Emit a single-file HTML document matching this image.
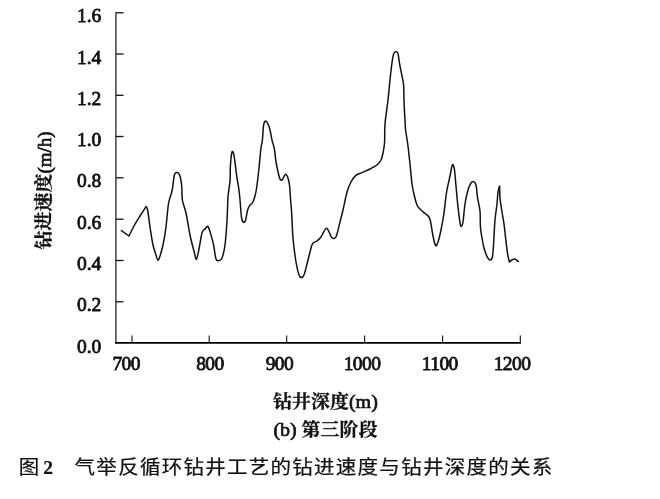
<!DOCTYPE html>
<html lang="zh"><head><meta charset="utf-8"><title>图2</title>
<style>
html,body{margin:0;padding:0;background:#fff;}
body{width:660px;height:499px;position:relative;overflow:hidden;}
.cap{position:absolute;left:0;top:453.3px;height:28px;line-height:28px;white-space:nowrap;
font-family:"Liberation Sans","Noto Sans CJK SC",sans-serif;font-size:20.5px;color:#111;letter-spacing:1.27px;-webkit-text-stroke:0.25px #111;}
.cap span,.cap b{position:absolute;top:0;}
.cap .a{left:18.8px;transform:scaleY(0.92);transform-origin:0 22.7px;}
svg .l{font-weight:normal;stroke:#111;stroke-width:0.7px;font-size:20px}
.cap b{left:43.2px;top:0.5px;font-family:"Liberation Serif","Noto Serif CJK SC",serif;font-weight:bold;font-size:19.5px;letter-spacing:0;-webkit-text-stroke:0.2px #111;}
.cap .t{left:74.6px;transform:scaleY(0.92);transform-origin:0 22.7px;}
</style></head><body>
<svg width="660" height="499" viewBox="0 0 660 499" style="position:absolute;left:0;top:0">
<g fill="none" stroke="#111" stroke-width="1.3">
<path d="M115.9,12.2 V343.5" stroke="#222"/>
<path d="M115.2,342.9 H521" stroke="#000" stroke-width="1.8"/>
<path d="M116,12.8 H123.6"/>
<path d="M116,54 H123.6"/>
<path d="M116,95.3 H123.6"/>
<path d="M116,136.5 H123.6"/>
<path d="M116,177.8 H123.6"/>
<path d="M116,219.2 H123.6"/>
<path d="M116,260.5 H123.6"/>
<path d="M116,301.8 H123.6"/>
<path d="M132,343 V335.5" stroke-width="1.1"/>
<path d="M209.2,343 V335.5" stroke-width="1.1"/>
<path d="M286.7,343 V335.5" stroke-width="1.1"/>
<path d="M364.6,343 V335.5" stroke-width="1.1"/>
<path d="M442.6,343 V335.5" stroke-width="1.1"/>
<path d="M520.3,343 V335.5" stroke-width="1.1"/>
<path d="M121.4,230.6 L129.0,236.0 C129.8,234.3 132.2,229.3 134.0,226.0 C135.8,222.7 138.0,219.2 140.0,216.0 C142.0,212.8 145.0,208.2 146.0,206.6 C146.3,207.2 146.9,206.6 147.6,210.0 C148.3,213.4 149.1,221.2 150.0,227.0 C150.9,232.8 152.0,240.3 153.0,245.0 C154.0,249.7 155.2,252.4 156.0,255.0 C156.8,257.6 157.3,260.1 158.0,260.3 C158.7,260.5 159.2,258.6 160.0,256.0 C160.8,253.4 162.0,249.8 163.0,245.0 C164.0,240.2 165.1,234.0 166.0,227.0 C166.9,220.0 167.6,209.0 168.6,203.0 C169.6,197.0 171.0,195.7 172.0,191.0 C173.0,186.3 173.6,178.1 174.4,175.0 C175.2,171.9 176.1,172.6 177.0,172.6 C177.9,172.6 178.8,172.9 179.6,175.0 C180.4,177.1 181.1,180.8 181.6,185.0 C182.1,189.2 181.7,195.3 182.4,200.0 C183.1,204.7 184.7,207.2 186.0,213.0 C187.3,218.8 188.7,228.7 190.0,235.0 C191.3,241.3 192.9,247.0 194.0,251.0 C195.1,255.0 195.6,259.5 196.4,259.2 C197.2,258.9 198.1,253.4 199.0,249.0 C199.9,244.6 201.0,236.3 202.0,233.0 C203.0,229.7 204.0,230.1 205.0,229.0 C206.0,227.9 207.0,225.6 208.0,226.6 C209.0,227.6 210.1,231.9 211.0,235.0 C211.9,238.1 212.8,241.0 213.6,245.0 C214.4,249.0 215.1,256.4 216.0,259.0 C216.9,261.6 218.0,260.8 219.0,260.6 C220.0,260.4 221.0,260.6 222.0,258.0 C223.0,255.4 224.2,251.2 225.0,245.0 C225.8,238.8 226.5,229.0 227.0,221.0 C227.5,213.0 227.5,203.7 228.0,197.0 C228.5,190.3 229.6,186.2 230.0,181.0 C230.4,175.8 230.1,170.6 230.4,166.0 C230.7,161.4 231.2,155.9 231.6,153.6 C232.0,151.3 232.5,151.3 233.0,152.0 C233.5,152.7 233.7,153.7 234.4,158.0 C235.1,162.3 236.2,172.7 237.0,178.0 C237.8,183.3 238.5,186.0 239.0,190.0 C239.5,194.0 239.8,197.3 240.2,202.0 C240.6,206.7 241.0,214.6 241.6,218.0 C242.2,221.4 242.9,222.1 243.6,222.4 C244.3,222.7 244.9,222.1 245.6,220.0 C246.3,217.9 246.9,212.5 247.6,210.0 C248.3,207.5 249.2,206.2 250.0,205.0 C250.8,203.8 251.6,204.5 252.4,203.0 C253.2,201.5 254.3,198.5 255.0,196.0 C255.7,193.5 255.9,192.7 256.6,188.0 C257.3,183.3 258.3,174.7 259.0,168.0 C259.7,161.3 260.4,152.7 261.0,148.0 C261.6,143.3 262.0,143.8 262.4,140.0 C262.8,136.2 263.1,128.2 263.6,125.0 C264.1,121.8 264.9,121.2 265.6,121.0 C266.3,120.8 267.3,122.5 268.0,124.0 C268.7,125.5 269.3,127.3 270.0,130.0 C270.7,132.7 271.3,136.8 272.0,140.0 C272.7,143.2 273.7,145.3 274.4,149.0 C275.1,152.7 275.2,157.5 276.0,162.0 C276.8,166.5 278.3,173.1 279.0,176.0 C279.7,178.9 279.8,179.0 280.4,179.6 C281.0,180.2 281.7,180.3 282.4,179.6 C283.1,178.9 283.8,176.5 284.4,175.6 C285.0,174.7 285.4,174.0 286.0,174.4 C286.6,174.8 287.4,176.1 288.0,178.0 C288.6,179.9 289.2,182.3 289.6,186.0 C290.0,189.7 290.3,195.7 290.6,200.0 C290.9,204.3 291.2,205.7 291.6,212.0 C292.0,218.3 292.3,229.7 293.0,238.0 C293.7,246.3 295.0,255.8 296.0,262.0 C297.0,268.2 298.1,272.4 299.0,275.0 C299.9,277.6 300.6,277.6 301.4,277.6 C302.2,277.6 303.1,277.3 304.0,275.0 C304.9,272.7 306.0,267.8 307.0,264.0 C308.0,260.2 309.1,255.4 310.0,252.0 C310.9,248.6 311.4,245.4 312.6,243.6 C313.8,241.8 315.6,242.1 317.0,241.0 C318.4,239.9 319.7,238.9 321.0,237.0 C322.3,235.1 324.0,231.0 325.0,229.6 C326.0,228.2 326.3,228.0 327.0,228.4 C327.7,228.8 328.2,230.5 329.0,232.0 C329.8,233.5 330.8,236.3 331.6,237.4 C332.4,238.5 333.2,238.6 334.0,238.4 C334.8,238.2 335.4,238.7 336.4,236.0 C337.4,233.3 338.9,226.3 340.0,222.0 C341.1,217.7 341.8,215.0 343.0,210.0 C344.2,205.0 345.7,196.7 347.0,192.0 C348.3,187.3 349.6,184.7 351.0,182.0 C352.4,179.3 353.8,177.2 355.6,175.6 C357.4,174.0 359.6,173.7 362.0,172.6 C364.4,171.5 367.5,170.3 370.0,169.0 C372.5,167.7 375.2,166.5 377.0,165.0 C378.8,163.5 380.0,162.0 381.0,160.0 C382.0,158.0 382.4,156.0 383.0,153.0 C383.6,150.0 384.3,146.8 384.6,142.0 C384.9,137.2 384.4,131.0 385.0,124.0 C385.6,117.0 387.2,107.3 388.0,100.0 C388.8,92.7 389.3,86.7 390.0,80.0 C390.7,73.3 391.7,64.5 392.4,60.0 C393.1,55.5 393.4,54.4 394.0,53.0 C394.6,51.6 395.3,51.7 396.0,51.8 C396.7,51.9 397.4,51.6 398.0,53.6 C398.6,55.6 398.9,60.3 399.6,64.0 C400.3,67.7 401.3,72.5 402.0,76.0 C402.7,79.5 403.3,81.0 403.6,85.0 C403.9,89.0 403.8,94.2 404.0,100.0 C404.2,105.8 404.7,115.0 405.0,120.0 C405.3,125.0 405.1,125.7 405.6,130.0 C406.1,134.3 407.3,140.3 408.0,146.0 C408.7,151.7 409.3,157.7 410.0,164.0 C410.7,170.3 411.3,178.7 412.0,184.0 C412.7,189.3 413.6,192.5 414.4,196.0 C415.2,199.5 416.1,202.8 417.0,205.0 C417.9,207.2 418.7,207.6 420.0,209.0 C421.3,210.4 423.5,212.2 425.0,213.5 C426.5,214.8 428.1,215.6 429.0,217.0 C429.9,218.4 429.9,218.8 430.6,222.0 C431.3,225.2 432.2,232.1 433.0,236.0 C433.8,239.9 434.8,244.6 435.6,245.6 C436.4,246.6 437.1,244.6 438.0,242.0 C438.9,239.4 440.0,234.8 441.0,230.0 C442.0,225.2 443.1,219.3 444.0,213.0 C444.9,206.7 445.6,198.2 446.6,192.0 C447.6,185.8 449.1,180.3 450.0,176.0 C450.9,171.7 451.5,167.8 452.0,166.0 C452.5,164.2 452.8,164.5 453.2,165.0 C453.6,165.5 453.9,165.5 454.4,169.0 C454.9,172.5 455.4,179.7 456.0,186.0 C456.6,192.3 457.3,200.9 458.0,207.0 C458.7,213.1 459.4,219.3 460.0,222.5 C460.6,225.7 460.9,226.5 461.4,226.4 C461.9,226.3 462.4,225.7 463.0,222.0 C463.6,218.3 464.2,209.3 465.0,204.0 C465.8,198.7 467.0,193.5 468.0,190.0 C469.0,186.5 470.1,184.4 471.0,183.0 C471.9,181.6 472.8,181.3 473.6,181.6 C474.4,181.9 475.3,182.3 476.0,185.0 C476.7,187.7 476.9,193.7 477.6,198.0 C478.3,202.3 479.5,206.3 480.0,211.0 C480.5,215.7 480.1,222.0 480.4,226.0 C480.6,230.0 480.9,231.3 481.5,235.0 C482.1,238.7 483.0,244.2 484.0,248.0 C485.0,251.8 486.5,255.6 487.6,257.6 C488.7,259.6 489.6,260.1 490.4,260.0 C491.2,259.9 491.9,259.7 492.4,257.0 C492.9,254.3 493.2,250.2 493.6,244.0 C494.0,237.8 494.4,226.7 495.0,220.0 C495.6,213.3 496.5,208.7 497.0,204.0 C497.5,199.3 497.6,195.0 498.0,192.0 C498.4,189.0 499.3,187.0 499.6,186.0 C499.7,188.0 499.6,193.7 500.0,198.0 C500.4,202.3 501.3,207.7 502.0,212.0 C502.7,216.3 503.4,219.7 504.0,224.0 C504.6,228.3 505.0,233.0 505.6,238.0 C506.2,243.0 507.0,250.0 507.6,254.0 C508.2,258.0 509.1,260.7 509.4,262.0 C509.8,261.7 511.1,260.5 512.0,260.0 C512.9,259.5 513.9,258.7 515.0,259.0 C516.1,259.3 517.8,261.2 518.4,261.6" stroke-width="1.5" stroke-linejoin="round" stroke-linecap="round"/>
</g>
<g font-family="'Liberation Serif', serif" font-size="19.5" fill="#111" stroke="#111" stroke-width="0.8" stroke-linejoin="round">
<text x="101.3" y="22.4" text-anchor="end">1.6</text>
<text x="101.3" y="63.6" text-anchor="end">1.4</text>
<text x="101.3" y="104.9" text-anchor="end">1.2</text>
<text x="101.3" y="146.1" text-anchor="end">1.0</text>
<text x="101.3" y="187.4" text-anchor="end">0.8</text>
<text x="101.3" y="228.8" text-anchor="end">0.6</text>
<text x="101.3" y="270.1" text-anchor="end">0.4</text>
<text x="101.3" y="311.4" text-anchor="end">0.2</text>
<text x="101.3" y="352.6" text-anchor="end">0.0</text>
<text x="126.2" y="370.3" text-anchor="middle" letter-spacing="-0.6">700</text>
<text x="209.9" y="370.3" text-anchor="middle" letter-spacing="-0.6">800</text>
<text x="279.4" y="370.3" text-anchor="middle" letter-spacing="-0.6">900</text>
<text x="362.0" y="370.3" text-anchor="middle" letter-spacing="-0.6">1000</text>
<text x="439.8" y="370.3" text-anchor="middle" letter-spacing="-0.6">1100</text>
<text x="512.0" y="370.3" text-anchor="middle" letter-spacing="-0.6">1200</text>
</g>
<g font-family="'Liberation Serif', 'Noto Serif CJK SC', serif" font-size="19" font-weight="bold" fill="#111" stroke="#111" stroke-width="0.3">
<text transform="translate(325.4,407.5) scale(1,0.95)" text-anchor="middle">钻井深度<tspan class="l">(m)</tspan></text>
<text transform="translate(325.4,436.2) scale(1,0.95)" text-anchor="middle"><tspan class="l">(b)</tspan> 第三阶段</text>
<text transform="translate(50.0,190.4) rotate(-90) scale(1,0.95)" text-anchor="middle">钻进速度<tspan class="l" dy="1.3" style="font-size:19px">(m/h)</tspan></text>
</g>
</svg>
<div class="cap"><span class="a">图</span><b>2</b><span class="t">气举反循环钻井工艺的钻进速度与钻井深度的关系</span></div>
</body></html>
